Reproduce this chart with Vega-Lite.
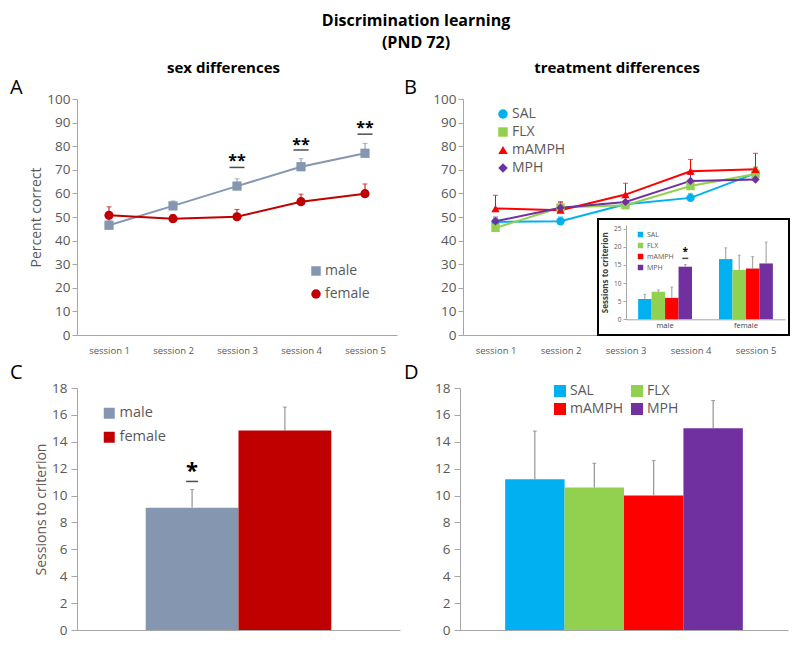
{
  "$schema": "https://vega.github.io/schema/vega-lite/v6.json",
  "background": "white",
  "padding": {"left": 10, "top": 13, "right": 5, "bottom": 5},
  "config": {
    "font": "Open Sans",
    "view": {"stroke": null},
    "axis": {"grid": false, "labelColor": "#595959", "titleColor": "#595959", "domainColor": "#A6A6A6", "tickColor": "#A6A6A6", "labelFont": "Open Sans", "titleFont": "Open Sans", "titleFontWeight": "normal"},
    "legend": {"labelColor": "#595959", "labelFont": "Open Sans", "padding": 0, "symbolOpacity": 1},
    "title": {"font": "Open Sans", "color": "#000000"}
  },
  "title": {"text": ["Discrimination learning", "(PND 72)"], "fontSize": 16, "fontWeight": "bold", "anchor": "middle", "lineHeight": 22, "dx": 16, "offset": 10},
  "datasets": {
    "sexLine": [
      {"session": "session 1", "sex": "male", "pct": 46.5, "hi": 48.5},
      {"session": "session 2", "sex": "male", "pct": 54.7, "hi": 56.8},
      {"session": "session 3", "sex": "male", "pct": 63.1, "hi": 66.2},
      {"session": "session 4", "sex": "male", "pct": 71.3, "hi": 74.7},
      {"session": "session 5", "sex": "male", "pct": 77.0, "hi": 81.2},
      {"session": "session 1", "sex": "female", "pct": 50.7, "hi": 54.3},
      {"session": "session 2", "sex": "female", "pct": 49.3, "hi": 51.0},
      {"session": "session 3", "sex": "female", "pct": 50.1, "hi": 53.2},
      {"session": "session 4", "sex": "female", "pct": 56.5, "hi": 59.7},
      {"session": "session 5", "sex": "female", "pct": 59.9, "hi": 64.0}
    ],
    "sexStars": [
      {"session": "session 3", "line": 71.0, "star": 75.5, "label": "**"},
      {"session": "session 4", "line": 78.4, "star": 82.3, "label": "**"},
      {"session": "session 5", "line": 85.1, "star": 89.4, "label": "**"}
    ],
    "treatLine": [
      {"session": "session 1", "treatment": "SAL", "pct": 47.9, "hi": 49.5},
      {"session": "session 2", "treatment": "SAL", "pct": 48.2, "hi": 50.0},
      {"session": "session 3", "treatment": "SAL", "pct": 55.4, "hi": 57.0},
      {"session": "session 4", "treatment": "SAL", "pct": 58.1, "hi": 60.0},
      {"session": "session 5", "treatment": "SAL", "pct": 68.5, "hi": 71.0},
      {"session": "session 1", "treatment": "FLX", "pct": 45.4, "hi": 47.0},
      {"session": "session 2", "treatment": "FLX", "pct": 54.0, "hi": 56.0},
      {"session": "session 3", "treatment": "FLX", "pct": 55.0, "hi": 57.0},
      {"session": "session 4", "treatment": "FLX", "pct": 63.1, "hi": 65.5},
      {"session": "session 5", "treatment": "FLX", "pct": 68.2, "hi": 71.5},
      {"session": "session 1", "treatment": "mAMPH", "pct": 53.6, "hi": 59.2},
      {"session": "session 2", "treatment": "mAMPH", "pct": 52.9, "hi": 56.0},
      {"session": "session 3", "treatment": "mAMPH", "pct": 59.5, "hi": 64.3},
      {"session": "session 4", "treatment": "mAMPH", "pct": 69.4, "hi": 74.4},
      {"session": "session 5", "treatment": "mAMPH", "pct": 70.2, "hi": 77.0},
      {"session": "session 1", "treatment": "MPH", "pct": 48.2, "hi": 50.0},
      {"session": "session 2", "treatment": "MPH", "pct": 53.9, "hi": 56.5},
      {"session": "session 3", "treatment": "MPH", "pct": 56.4, "hi": 58.5},
      {"session": "session 4", "treatment": "MPH", "pct": 65.3, "hi": 68.0},
      {"session": "session 5", "treatment": "MPH", "pct": 65.9, "hi": 69.0}
    ],
    "inset": [
      {"bar": "male SAL", "group": "male", "treatment": "SAL", "mean": 5.6, "hi": 6.9},
      {"bar": "male FLX", "group": "male", "treatment": "FLX", "mean": 7.6, "hi": 8.1},
      {"bar": "male mAMPH", "group": "male", "treatment": "mAMPH", "mean": 5.9, "hi": 8.9},
      {"bar": "male MPH", "group": "male", "treatment": "MPH", "mean": 14.5, "hi": 15.1},
      {"bar": "female SAL", "group": "female", "treatment": "SAL", "mean": 16.6, "hi": 19.7},
      {"bar": "female FLX", "group": "female", "treatment": "FLX", "mean": 13.6, "hi": 17.7},
      {"bar": "female mAMPH", "group": "female", "treatment": "mAMPH", "mean": 14.0, "hi": 17.3},
      {"bar": "female MPH", "group": "female", "treatment": "MPH", "mean": 15.4, "hi": 21.3}
    ],
    "insetStar": [
      {"bar": "male MPH", "line": 16.8, "star": 19.1, "label": "*"}
    ],
    "sexBars": [
      {"sex": "male", "mean": 9.1, "hi": 10.45},
      {"sex": "female", "mean": 14.84, "hi": 16.58}
    ],
    "sexBarStar": [
      {"sex": "male", "line": 11.05, "star": 12.2, "label": "*"}
    ],
    "treatBars": [
      {"treatment": "SAL", "mean": 11.22, "hi": 14.8},
      {"treatment": "FLX", "mean": 10.6, "hi": 12.4},
      {"treatment": "mAMPH", "mean": 10.0, "hi": 12.6},
      {"treatment": "MPH", "mean": 15.0, "hi": 17.07}
    ],
    "frame": [{}]
  },
  "spacing": 8,
  "resolve": {"scale": {"x": "independent", "y": "independent", "color": "independent", "fill": "independent", "shape": "independent"}},
  "vconcat": [
    {
      "spacing": 7,
      "resolve": {"scale": {"x": "independent", "y": "independent", "color": "independent", "fill": "independent", "shape": "independent"}},
      "hconcat": [
        {
          "title": {"text": "sex differences", "fontSize": 15, "fontWeight": "bold", "anchor": "middle", "dx": 20, "offset": 2},
          "resolve": {"scale": {"x": "independent", "y": "independent", "color": "independent", "fill": "independent", "shape": "independent"}},
          "vconcat": [
            {
              "width": 320,
              "height": 236,
              "title": {"text": "A", "fontSize": 20, "fontWeight": "normal", "anchor": "start", "frame": "group", "dx": -67, "offset": -6},
              "layer": [
                {
                  "data": {"name": "sexLine"},
                  "encoding": {
                    "x": {"field": "session", "type": "ordinal", "scale": {"type": "point", "padding": 0.5, "domain": ["session 1", "session 2", "session 3", "session 4", "session 5"]}, "axis": {"title": null, "labelAngle": 0, "ticks": false, "labelFontSize": 9.5, "labelPadding": 10}},
                    "color": {
                      "field": "sex", "type": "nominal",
                      "scale": {"domain": ["male", "female"], "range": ["#8496B0", "#C00000"]},
                      "legend": {"orient": "none", "legendX": 232, "legendY": 165, "title": null, "labelFontSize": 14, "symbolSize": 90, "symbolOpacity": 1, "rowPadding": 9, "labelOffset": 2, "symbolStrokeWidth": 0}
                    }
                  },
                  "layer": [
                    {"mark": {"type": "rule", "strokeWidth": 1}, "encoding": {"y": {"field": "pct", "type": "quantitative", "scale": {"domain": [0, 100]}, "axis": {"title": "Percent correct", "values": [0, 10, 20, 30, 40, 50, 60, 70, 80, 90, 100], "labelFontSize": 13.5, "tickSize": 5, "labelPadding": 2, "titleFontSize": 14, "titlePadding": 3}}, "y2": {"field": "hi"}}},
                    {"mark": {"type": "tick", "thickness": 1, "size": 5}, "encoding": {"y": {"field": "hi", "type": "quantitative", "axis": {"title": "Percent correct", "values": [0, 10, 20, 30, 40, 50, 60, 70, 80, 90, 100], "labelFontSize": 13.5, "tickSize": 5, "labelPadding": 2, "titleFontSize": 14, "titlePadding": 3}}}},
                    {"mark": {"type": "line", "strokeWidth": 2}, "encoding": {"y": {"field": "pct", "type": "quantitative", "axis": {"title": "Percent correct", "values": [0, 10, 20, 30, 40, 50, 60, 70, 80, 90, 100], "labelFontSize": 13.5, "tickSize": 5, "labelPadding": 2, "titleFontSize": 14, "titlePadding": 3}}}},
                    {"mark": {"type": "point", "filled": true, "opacity": 1, "size": 85}, "encoding": {"y": {"field": "pct", "type": "quantitative", "axis": {"title": "Percent correct", "values": [0, 10, 20, 30, 40, 50, 60, 70, 80, 90, 100], "labelFontSize": 13.5, "tickSize": 5, "labelPadding": 2, "titleFontSize": 14, "titlePadding": 3}}, "shape": {"field": "sex", "type": "nominal", "scale": {"domain": ["male", "female"], "range": ["square", "circle"]}, "legend": null}}}
                  ]
                },
                {
                  "data": {"name": "sexStars"},
                  "mark": {"type": "tick", "color": "#000000", "thickness": 1.5, "size": 15},
                  "encoding": {
                    "x": {"field": "session", "type": "ordinal"},
                    "y": {"field": "line", "type": "quantitative", "axis": {"title": "Percent correct", "values": [0, 10, 20, 30, 40, 50, 60, 70, 80, 90, 100], "labelFontSize": 13.5, "tickSize": 5, "labelPadding": 2, "titleFontSize": 14, "titlePadding": 3}}
                  }
                },
                {
                  "data": {"name": "sexStars"},
                  "mark": {"type": "text", "color": "#000000", "fontSize": 16, "fontWeight": "bold", "baseline": "alphabetic", "dy": 9},
                  "encoding": {
                    "x": {"field": "session", "type": "ordinal"},
                    "y": {"field": "star", "type": "quantitative", "axis": {"title": "Percent correct", "values": [0, 10, 20, 30, 40, 50, 60, 70, 80, 90, 100], "labelFontSize": 13.5, "tickSize": 5, "labelPadding": 2, "titleFontSize": 14, "titlePadding": 3}},
                    "text": {"field": "label"}
                  }
                }
              ]
            }
          ]
        },
        {
          "title": {"text": "treatment differences", "fontSize": 15, "fontWeight": "bold", "anchor": "middle", "dx": 20, "offset": 2},
          "resolve": {"scale": {"x": "independent", "y": "independent", "color": "independent", "fill": "independent", "shape": "independent"}},
          "vconcat": [
            {
              "width": 325,
              "height": 236,
              "title": {"text": "B", "fontSize": 20, "fontWeight": "normal", "anchor": "start", "frame": "group", "dx": -59, "offset": -6},
              "resolve": {"scale": {"x": "independent", "y": "independent"}, "axis": {"x": "independent", "y": "independent"}},
              "layer": [
                {
                  "data": {"name": "treatLine"},
                  "encoding": {
                    "x": {"field": "session", "type": "ordinal", "scale": {"type": "point", "padding": 0.5, "domain": ["session 1", "session 2", "session 3", "session 4", "session 5"]}, "axis": {"title": null, "labelAngle": 0, "ticks": false, "labelFontSize": 9.5, "labelPadding": 10, "orient": "bottom"}},
                    "color": {
                      "field": "treatment", "type": "nominal",
                      "scale": {"domain": ["SAL", "FLX", "mAMPH", "MPH"], "range": ["#00B0F0", "#92D050", "#FF0000", "#7030A0"]},
                      "legend": {"orient": "none", "legendX": 33, "legendY": 8, "title": null, "labelFontSize": 14, "symbolSize": 90, "symbolOpacity": 1, "rowPadding": 4, "labelOffset": 2, "symbolStrokeWidth": 0}
                    }
                  },
                  "layer": [
                    {"mark": {"type": "rule", "strokeWidth": 1}, "encoding": {"y": {"field": "pct", "type": "quantitative", "scale": {"domain": [0, 100]}, "axis": {"title": null, "orient": "left", "values": [0, 10, 20, 30, 40, 50, 60, 70, 80, 90, 100], "labelFontSize": 13.5, "tickSize": 5, "labelPadding": 2}}, "y2": {"field": "hi"}}},
                    {"mark": {"type": "tick", "thickness": 1, "size": 5}, "encoding": {"y": {"field": "hi", "type": "quantitative", "axis": {"title": null, "orient": "left", "values": [0, 10, 20, 30, 40, 50, 60, 70, 80, 90, 100], "labelFontSize": 13.5, "tickSize": 5, "labelPadding": 2}}}},
                    {"mark": {"type": "line", "strokeWidth": 2}, "encoding": {"y": {"field": "pct", "type": "quantitative", "axis": {"title": null, "orient": "left", "values": [0, 10, 20, 30, 40, 50, 60, 70, 80, 90, 100], "labelFontSize": 13.5, "tickSize": 5, "labelPadding": 2}}}},
                    {"mark": {"type": "point", "filled": true, "opacity": 1, "size": 70}, "encoding": {"y": {"field": "pct", "type": "quantitative", "axis": {"title": null, "orient": "left", "values": [0, 10, 20, 30, 40, 50, 60, 70, 80, 90, 100], "labelFontSize": 13.5, "tickSize": 5, "labelPadding": 2}}, "shape": {"field": "treatment", "type": "nominal", "scale": {"domain": ["SAL", "FLX", "mAMPH", "MPH"], "range": ["circle", "square", "triangle-up", "diamond"]}, "legend": null}}}
                  ]
                },
                {
                  "data": {"name": "frame"},
                  "mark": {"type": "rect", "fill": "#FFFFFF", "stroke": "#000000", "strokeWidth": 2},
                  "encoding": {
                    "x": {"datum": 0, "type": "quantitative", "scale": {"domain": [0, 1], "range": [135, 326]}, "axis": null},
                    "x2": {"datum": 1},
                    "y": {"datum": 0, "type": "quantitative", "scale": {"domain": [0, 1], "range": [236, 120]}, "axis": null},
                    "y2": {"datum": 1}
                  }
                },
                {
                  "encoding": {
                    "x": {"field": "bar", "type": "nominal", "scale": {"domain": ["male SAL", "male FLX", "male mAMPH", "male MPH", "gap 1", "gap 2", "female SAL", "female FLX", "female mAMPH", "female MPH"], "range": [163, 322], "paddingInner": 0, "paddingOuter": 0.9}, "axis": {"orient": "bottom", "offset": -15.7, "zindex": 1, "title": null, "values": ["male mAMPH", "female mAMPH"], "labelExpr": "split(datum.value, ' ')[0]", "labelOffset": -6.8, "labelAngle": 0, "ticks": false, "labelFontSize": 7.5, "labelPadding": 2, "labelColor": "#404040"}}
                  },
                  "layer": [
                    {
                      "data": {"name": "inset"},
                      "mark": {"type": "bar"},
                      "encoding": {
                        "y": {"field": "mean", "type": "quantitative", "scale": {"domain": [0, 25], "range": [220.3, 126]}, "axis": {"orient": "left", "offset": -163, "zindex": 1, "title": "Sessions to criterion", "titleFontSize": 8, "titleFontWeight": "bold", "titleColor": "#404040", "titlePadding": 4, "values": [0, 5, 10, 15, 20, 25], "labelFontSize": 6.5, "tickSize": 3, "labelPadding": 2}},
                        "fill": {
                          "field": "treatment", "type": "nominal",
                          "sort": ["SAL", "FLX", "mAMPH", "MPH"],
                          "scale": {"range": ["#00B0F0", "#92D050", "#FF0000", "#7030A0"]},
                          "legend": {"orient": "none", "legendX": 174, "legendY": 132, "title": null, "symbolType": "square", "symbolSize": 30, "labelFontSize": 7, "rowPadding": 3, "labelOffset": 3, "symbolStrokeWidth": 0}
                        }
                      }
                    },
                    {
                      "data": {"name": "inset"},
                      "mark": {"type": "rule", "color": "#7F7F7F", "strokeWidth": 0.8},
                      "encoding": {
                        "y": {"field": "mean", "type": "quantitative", "axis": {"orient": "left", "offset": -163, "zindex": 1, "title": "Sessions to criterion", "titleFontSize": 8, "titleFontWeight": "bold", "titleColor": "#404040", "titlePadding": 4, "values": [0, 5, 10, 15, 20, 25], "labelFontSize": 6.5, "tickSize": 3, "labelPadding": 2}},
                        "y2": {"field": "hi"}
                      }
                    },
                    {
                      "data": {"name": "inset"},
                      "mark": {"type": "tick", "color": "#7F7F7F", "thickness": 0.8, "size": 3},
                      "encoding": {
                        "y": {"field": "hi", "type": "quantitative", "axis": {"orient": "left", "offset": -163, "zindex": 1, "title": "Sessions to criterion", "titleFontSize": 8, "titleFontWeight": "bold", "titleColor": "#404040", "titlePadding": 4, "values": [0, 5, 10, 15, 20, 25], "labelFontSize": 6.5, "tickSize": 3, "labelPadding": 2}}
                      }
                    },
                    {
                      "data": {"name": "insetStar"},
                      "mark": {"type": "tick", "color": "#000000", "thickness": 1.5, "size": 6},
                      "encoding": {
                        "y": {"field": "line", "type": "quantitative", "axis": {"orient": "left", "offset": -163, "zindex": 1, "title": "Sessions to criterion", "titleFontSize": 8, "titleFontWeight": "bold", "titleColor": "#404040", "titlePadding": 4, "values": [0, 5, 10, 15, 20, 25], "labelFontSize": 6.5, "tickSize": 3, "labelPadding": 2}}
                      }
                    },
                    {
                      "data": {"name": "insetStar"},
                      "mark": {"type": "text", "color": "#000000", "fontSize": 10, "fontWeight": "bold", "baseline": "alphabetic", "dy": 5},
                      "encoding": {
                        "y": {"field": "star", "type": "quantitative", "axis": {"orient": "left", "offset": -163, "zindex": 1, "title": "Sessions to criterion", "titleFontSize": 8, "titleFontWeight": "bold", "titleColor": "#404040", "titlePadding": 4, "values": [0, 5, 10, 15, 20, 25], "labelFontSize": 6.5, "tickSize": 3, "labelPadding": 2}},
                        "text": {"field": "label"}
                      }
                    }
                  ]
                }
              ]
            }
          ]
        }
      ]
    },
    {
      "spacing": 4,
      "resolve": {"scale": {"x": "independent", "y": "independent", "color": "independent", "fill": "independent", "shape": "independent"}},
      "hconcat": [
        {
          "width": 323,
          "height": 242,
          "title": {"text": "C", "fontSize": 20, "fontWeight": "normal", "anchor": "start", "frame": "group", "dx": -67, "offset": -2},
          "encoding": {
            "x": {"field": "sex", "type": "nominal", "scale": {"domain": ["male", "female"], "paddingInner": 0, "paddingOuter": 0.74}, "axis": {"title": null, "labels": false, "ticks": false}}
          },
          "layer": [
            {
              "data": {"name": "sexBars"},
              "mark": {"type": "bar"},
              "encoding": {
                "y": {"field": "mean", "type": "quantitative", "scale": {"domain": [0, 18]}, "axis": {"title": "Sessions to criterion", "values": [0, 2, 4, 6, 8, 10, 12, 14, 16, 18], "labelFontSize": 13.5, "tickSize": 6, "labelPadding": 4, "titleFontSize": 14, "titlePadding": 3}},
                "fill": {
                  "field": "sex", "type": "nominal",
                  "scale": {"domain": ["male", "female"], "range": ["#8496B0", "#C00000"]},
                  "legend": {"orient": "none", "legendX": 25, "legendY": 18, "title": null, "symbolType": "square", "symbolSize": 121, "labelFontSize": 14.5, "rowPadding": 9, "labelOffset": 3, "symbolStrokeWidth": 0}
                }
              }
            },
            {
              "data": {"name": "sexBars"},
              "mark": {"type": "rule", "color": "#7F7F7F", "strokeWidth": 1},
              "encoding": {
                "y": {"field": "mean", "type": "quantitative", "axis": {"title": "Sessions to criterion", "values": [0, 2, 4, 6, 8, 10, 12, 14, 16, 18], "labelFontSize": 13.5, "tickSize": 6, "labelPadding": 4, "titleFontSize": 14, "titlePadding": 3}},
                "y2": {"field": "hi"}
              }
            },
            {
              "data": {"name": "sexBars"},
              "mark": {"type": "tick", "color": "#7F7F7F", "thickness": 1, "size": 4},
              "encoding": {
                "y": {"field": "hi", "type": "quantitative", "axis": {"title": "Sessions to criterion", "values": [0, 2, 4, 6, 8, 10, 12, 14, 16, 18], "labelFontSize": 13.5, "tickSize": 6, "labelPadding": 4, "titleFontSize": 14, "titlePadding": 3}}
              }
            },
            {
              "data": {"name": "sexBarStar"},
              "mark": {"type": "tick", "color": "#000000", "thickness": 1.5, "size": 12},
              "encoding": {
                "y": {"field": "line", "type": "quantitative", "axis": {"title": "Sessions to criterion", "values": [0, 2, 4, 6, 8, 10, 12, 14, 16, 18], "labelFontSize": 13.5, "tickSize": 6, "labelPadding": 4, "titleFontSize": 14, "titlePadding": 3}}
              }
            },
            {
              "data": {"name": "sexBarStar"},
              "mark": {"type": "text", "color": "#000000", "fontSize": 22, "fontWeight": "bold", "baseline": "alphabetic", "dy": 12},
              "encoding": {
                "y": {"field": "star", "type": "quantitative", "axis": {"title": "Sessions to criterion", "values": [0, 2, 4, 6, 8, 10, 12, 14, 16, 18], "labelFontSize": 13.5, "tickSize": 6, "labelPadding": 4, "titleFontSize": 14, "titlePadding": 3}},
                "text": {"field": "label"}
              }
            }
          ]
        },
        {
          "width": 328,
          "height": 242,
          "title": {"text": "D", "fontSize": 20, "fontWeight": "normal", "anchor": "start", "frame": "group", "dx": -56, "offset": -2},
          "data": {"name": "treatBars"},
          "encoding": {
            "x": {"field": "treatment", "type": "nominal", "scale": {"domain": ["SAL", "FLX", "mAMPH", "MPH"], "paddingInner": 0, "paddingOuter": 0.76}, "axis": {"title": null, "labels": false, "ticks": false}}
          },
          "layer": [
            {
              "mark": {"type": "bar"},
              "encoding": {
                "y": {"field": "mean", "type": "quantitative", "scale": {"domain": [0, 18]}, "axis": {"title": null, "values": [0, 2, 4, 6, 8, 10, 12, 14, 16, 18], "labelFontSize": 13.5, "tickSize": 6, "labelPadding": 4}},
                "fill": {
                  "field": "treatment", "type": "nominal",
                  "scale": {"domain": ["SAL", "FLX", "mAMPH", "MPH"], "range": ["#00B0F0", "#92D050", "#FF0000", "#7030A0"]},
                  "legend": {"orient": "none", "legendX": 93, "legendY": -4, "columns": 2, "direction": "horizontal", "title": null, "symbolType": "square", "symbolSize": 144, "labelFontSize": 14, "rowPadding": 4, "columnPadding": 6, "labelOffset": 3, "symbolStrokeWidth": 0}
                }
              }
            },
            {
              "mark": {"type": "rule", "color": "#7F7F7F", "strokeWidth": 1},
              "encoding": {
                "y": {"field": "mean", "type": "quantitative", "axis": {"title": null, "values": [0, 2, 4, 6, 8, 10, 12, 14, 16, 18], "labelFontSize": 13.5, "tickSize": 6, "labelPadding": 4}},
                "y2": {"field": "hi"}
              }
            },
            {
              "mark": {"type": "tick", "color": "#7F7F7F", "thickness": 1, "size": 4},
              "encoding": {
                "y": {"field": "hi", "type": "quantitative", "axis": {"title": null, "values": [0, 2, 4, 6, 8, 10, 12, 14, 16, 18], "labelFontSize": 13.5, "tickSize": 6, "labelPadding": 4}}
              }
            }
          ]
        }
      ]
    }
  ]
}
